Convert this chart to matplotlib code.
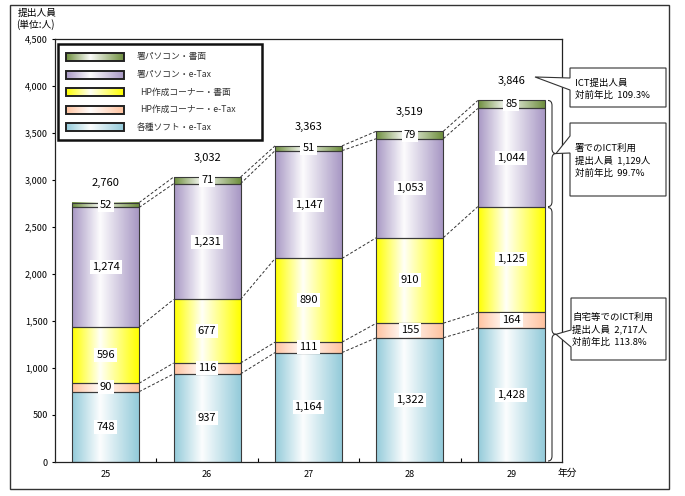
import numpy as np
import matplotlib
matplotlib.use('Agg')
import matplotlib.pyplot as plt
from matplotlib.colors import to_rgb
from matplotlib.patches import Rectangle, Polygon, PathPatch
from matplotlib.path import Path
from matplotlib.ticker import FuncFormatter

plt.rcParams['font.family'] = ['Noto Sans CJK JP', 'DejaVu Sans']

# data (提出人員, 単位:人)
years = ['25', '26', '27', '28', '29']
soft_etax = [748, 937, 1164, 1322, 1428]      # 各種ソフト・e-Tax
hp_etax = [90, 116, 111, 155, 164]            # HP作成コーナー・e-Tax
hp_paper = [596, 677, 890, 910, 1125]         # HP作成コーナー・書面
pc_etax = [1274, 1231, 1147, 1053, 1044]      # 署パソコン・e-Tax
pc_paper = [52, 71, 51, 79, 85]               # 署パソコン・書面
totals = [2760, 3032, 3363, 3519, 3846]

series = [soft_etax, hp_etax, hp_paper, pc_etax, pc_paper]
names = ['各種ソフト・e-Tax', 'HP作成コーナー・e-Tax', 'HP作成コーナー・書面',
         '署パソコン・e-Tax', '署パソコン・書面']
colors = ['#94CBDA', '#FFC3A0', '#FFFF00', '#A898C4', '#6F8F3F']

callout_texts = [
    ['ICT提出人員', '対前年比  109.3%'],
    ['署でのICT利用', '提出人員  1,129人', '対前年比  99.7%'],
    ['自宅等でのICT利用', '提出人員  2,717人', '対前年比  113.8%'],
]

W, H = 685, 496


def grad(c, n=80):
    t = np.linspace(0, 1, n)
    w = np.where(t < 0.42, t / 0.42, 1 - (t - 0.42) / 0.58) * 0.97
    rgb = np.array(to_rgb(c))
    arr = rgb[None, :] * (1 - w[:, None]) + w[:, None]
    return arr[None, :, :]


fig = plt.figure(figsize=(W / 100, H / 100), dpi=100)
ax = fig.add_axes([55 / W, (H - 462) / H, 507 / W, 423 / H])

x = np.arange(len(years))
half = 0.33
bottom = np.zeros(len(years))
levels = []
for vals, col in zip(series, colors):
    vals = np.array(vals)
    for i in range(len(years)):
        ax.imshow(grad(col), extent=(x[i] - half, x[i] + half, bottom[i], bottom[i] + vals[i]),
                  aspect='auto', zorder=2, interpolation='bilinear')
        ax.add_patch(Rectangle((x[i] - half, bottom[i]), 2 * half, vals[i], fill=False,
                               ec='#3a3a3a', lw=0.8, zorder=3))
        ax.text(x[i], bottom[i] + vals[i] / 2, f'{vals[i]:,}', ha='center', va='center',
                fontsize=8, zorder=5,
                bbox=dict(boxstyle='square,pad=0.18', fc='white', ec='none'))
    bottom = bottom + vals
    levels.append(bottom.copy())

for i in range(len(years)):
    ax.text(x[i], totals[i] + 150, f'{totals[i]:,}', ha='center', va='bottom', fontsize=8)

# dashed connectors
for lv in levels:
    for i in range(len(years) - 1):
        ax.plot([x[i] + half, x[i + 1] - half], [lv[i], lv[i + 1]], color='#333333',
                lw=0.7, ls=(0, (3, 2)), zorder=4)

ax.set_xlim(-0.5, len(years) - 0.5)
ax.set_ylim(0, 4500)
ax.set_yticks(range(0, 4501, 500))
ax.yaxis.set_major_formatter(FuncFormatter(lambda v, p: f'{int(v):,}'))
ax.set_xticks(x[:-1] + 0.5)
ax.set_xticklabels([])
ax.set_xticks(x, minor=True)
ax.set_xticklabels(years, minor=True)
ax.tick_params(axis='x', which='major', direction='in', length=3)
ax.tick_params(axis='x', which='minor', length=0, labelsize=6.5, pad=6)
ax.tick_params(axis='y', direction='out', length=2, labelsize=6.5, pad=3)
for s in ax.spines.values():
    s.set_color('#222222')
    s.set_linewidth(0.9)

# overlay in pixel coords
ov = fig.add_axes([0, 0, 1, 1], zorder=10)
ov.set_xlim(0, W)
ov.set_ylim(H, 0)
ov.axis('off')

ov.add_patch(Rectangle((10, 5), 659, 484, fill=False, ec='#333333', lw=1))
ov.text(18, 13, '提出人員', fontsize=7, va='center', ha='left')
ov.text(16, 25, '(単位:人)', fontsize=7, va='center', ha='left')
ov.text(558, 473, '年分', fontsize=7, va='center', ha='left')

# legend
ov.add_patch(Rectangle((58, 44), 204, 96, fc='white', ec='#111111', lw=1.8))
for k, j in enumerate(range(len(series) - 1, -1, -1)):
    yc = 57 + k * 17.6
    ov.imshow(grad(colors[j]), extent=(66, 124, yc + 4, yc - 4), aspect='auto',
              interpolation='bilinear', zorder=3)
    ov.add_patch(Rectangle((66, yc - 4), 58, 8, fill=False, ec='#222222', lw=1.4, zorder=4))
    ov.text(137 if j > 2 or j == 0 else 140, yc, names[j], fontsize=6.3, va='center',
            ha='left', color='#333333')


def to_px(xd, yd):
    px, py = ax.transData.transform((xd, yd))
    return px, H - py


# braces
def brace(ytop, ybot, x0=548, x1=552, xt=556, r=5):
    ym = (ytop + ybot) / 2
    verts = [(x0, ytop), (x1, ytop), (x1, ytop + r), (x1, ym - r), (x1, ym), (xt, ym),
             (x1, ym), (x1, ym + r), (x1, ybot - r), (x1, ybot), (x0, ybot)]
    codes = [Path.MOVETO, Path.CURVE3, Path.CURVE3, Path.LINETO, Path.CURVE3, Path.CURVE3,
             Path.CURVE3, Path.CURVE3, Path.LINETO, Path.CURVE3, Path.CURVE3]
    ov.add_patch(PathPatch(Path(verts, codes), fill=False, ec='#333333', lw=0.8))
    return xt, ym


home = levels[2][-1]
_, y_tot = to_px(x[-1], totals[-1])
_, y_home = to_px(x[-1], home)
_, y_zero = to_px(x[-1], 0)
t2 = brace(y_tot, y_home)
t3 = brace(y_home + 1, y_zero - 1)
_, y_lab = to_px(x[-1], totals[-1] + 250)


def callout(box, tip, wy, lines, tx, ty, dy=12.5):
    bx0, by0, bx1, by1 = box
    pts = [(bx0, by0), (bx1, by0), (bx1, by1), (bx0, by1), (bx0, wy[1]), tip, (bx0, wy[0])]
    ov.add_patch(Polygon(pts, closed=True, fc='white', ec='#333333', lw=0.8))
    for n, s in enumerate(lines):
        ov.text(tx, ty + n * dy, s, fontsize=6.8, va='center', ha='left')


callout((570, 68, 666, 107), (535, y_lab), (78, 90), callout_texts[0], 575, 83, 12)
callout((570, 123, 666, 196), (t2[0], t2[1]), (136, 153), callout_texts[1], 575, 148)
callout((571, 298, 666, 360), (t3[0], t3[1]), (330, 347), callout_texts[2], 572, 317)

fig.savefig('out.png', dpi=100)
